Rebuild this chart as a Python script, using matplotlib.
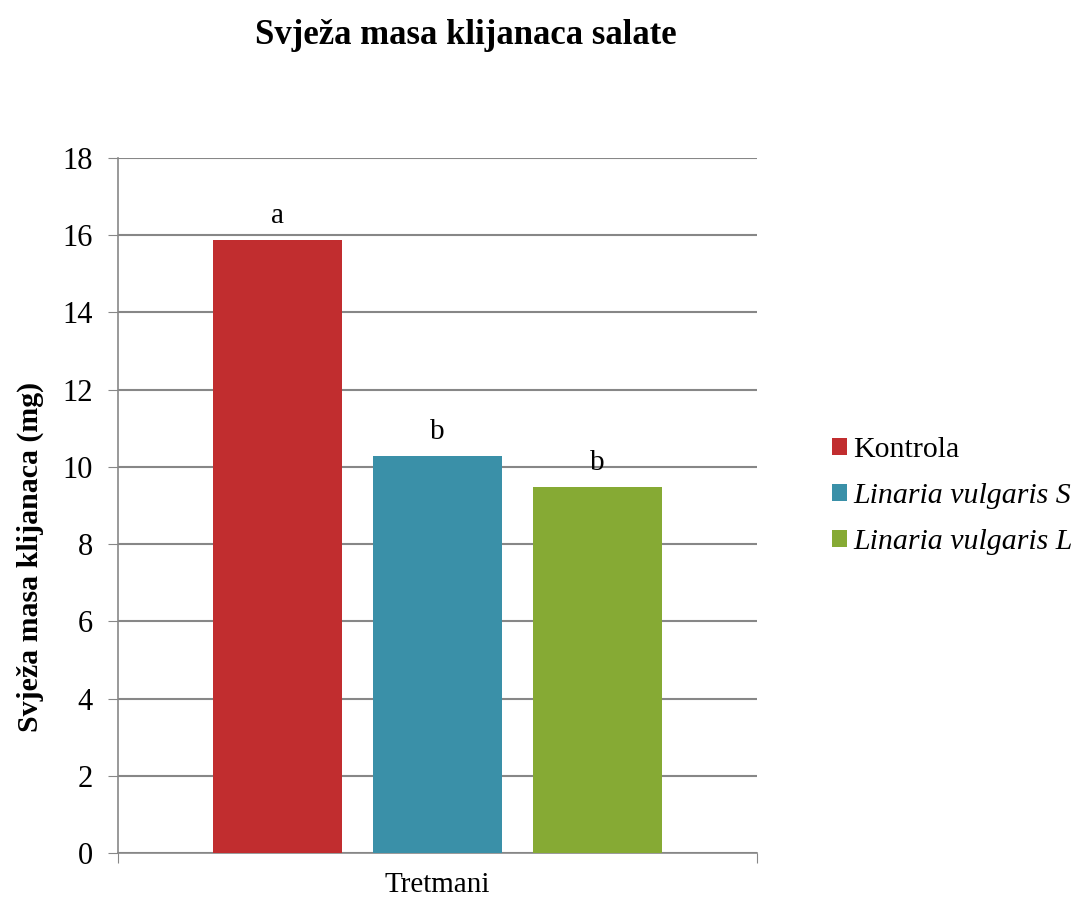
import matplotlib
matplotlib.use("Agg")
import matplotlib.pyplot as plt

treatments = ["Kontrola", "Linaria vulgaris S", "Linaria vulgaris L"]
values = [15.88, 10.28, 9.48]
letters = ["a", "b", "b"]
colors = ["#C12D2F", "#3A90A8", "#86AA34"]
italic = [False, True, True]

plt.rcParams["font.family"] = ["Liberation Serif", "DejaVu Serif"]

fig = plt.figure(figsize=(10.72, 9.0), dpi=100)
ax = fig.add_axes([118 / 1072, 1 - 853 / 900, 639 / 1072, 695 / 900])

xs = list(range(len(values)))
handles = []
for x, v, c, lab in zip(xs, values, colors, treatments):
    h = ax.bar(x, v, width=0.806, color=c, label=lab, zorder=3)
    handles.append(h)
for x, v, t in zip(xs, values, letters):
    ax.annotate(t, (x, v), xytext=(0, 8), textcoords="offset points",
                ha="center", va="bottom", fontsize=21)

ax.set_xlim(-1, 3)
ax.set_ylim(0, 18)
ax.set_yticks(range(0, 19, 2))
ax.set_xticks([-1, 3])
ax.set_xticklabels(["", ""])
ax.grid(axis="y", color="#878787", linewidth=1.5, zorder=0)
for s in ("top", "right"):
    ax.spines[s].set_visible(False)
for s in ("left", "bottom"):
    ax.spines[s].set_color("#878787")
    ax.spines[s].set_linewidth(1.2)
ax.tick_params(axis="y", direction="out", length=7, color="#878787",
               labelsize=22, pad=11)
ax.tick_params(axis="x", direction="out", length=7, color="#878787")

fig.text(437 / 1072, 1 - 885 / 900, "Tretmani", ha="center", va="center", fontsize=21)
fig.text(30 / 1072, 1 - 557 / 900, "Svježa masa klijanaca (mg)", rotation=90,
         ha="center", va="center", fontsize=21.5, fontweight="bold")
fig.text(466 / 1072, 1 - 35 / 900, "Svježa masa klijanaca salate",
         ha="center", va="center", fontsize=25, fontweight="bold")

leg = fig.legend(handles=handles, labels=treatments, loc="center left",
                 bbox_to_anchor=(832 / 1072, 1 - 496 / 900), frameon=False,
                 fontsize=21.5, handlelength=0.5, handleheight=0.5,
                 handletextpad=0.2, labelspacing=0.68, borderaxespad=0,
                 borderpad=0)
for txt, it in zip(leg.get_texts(), italic):
    if it:
        txt.set_fontstyle("italic")

fig.savefig("out.png", dpi=100)
